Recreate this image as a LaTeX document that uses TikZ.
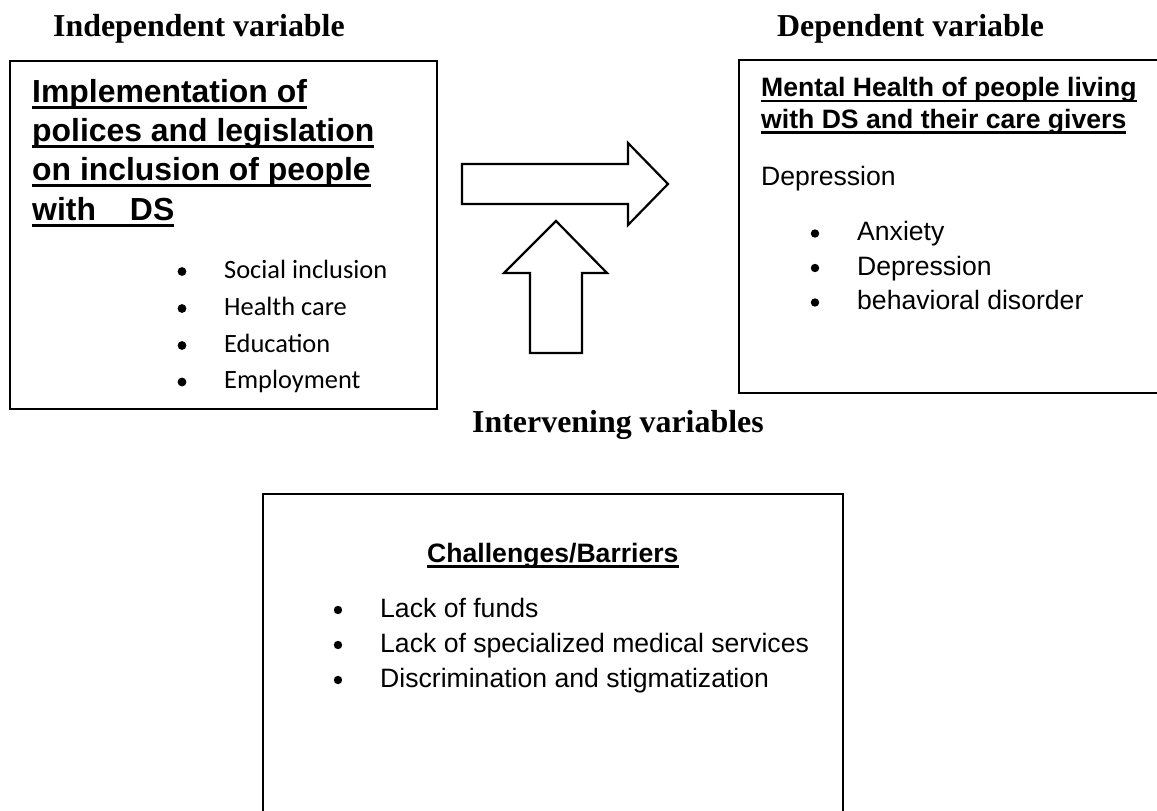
\documentclass[tikz,border=0pt]{standalone}
\usepackage{fontspec}
\setmainfont{Liberation Serif}
\newfontfamily\arialf{Liberation Sans}
\newfontfamily\calibrif{Carlito}

% underline at a fixed depth, crossing descenders
\newcommand\ulined[1]{\setbox0=\hbox{#1}\rlap{\rule[-0.21em]{\wd0}{0.09em}}\box0}

\begin{document}
\begin{tikzpicture}[x=1pt,y=-1pt,
  frame/.style={draw, line width=2.4pt, rectangle, inner sep=0, outer sep=0, anchor=north west},
  blockarrow/.style={draw, line width=2.2pt, line join=miter, fill=white},
  title/.style={anchor=base west, inner sep=0, font=\fontsize{31.9}{38}\selectfont\bfseries},
  headbig/.style={anchor=base west, inner sep=0, font=\arialf\fontsize{31.9}{39}\selectfont\bfseries},
  headsmall/.style={anchor=base west, inner sep=0, font=\arialf\fontsize{26.6}{32}\selectfont\bfseries},
  item/.style={anchor=base west, inner sep=0, font=\arialf\fontsize{26.6}{32}\selectfont},
  itemc/.style={anchor=base west, inner sep=0, font=\calibrif\fontsize{26.4}{32}\selectfont},
  dot/.style={fill=black},
]
\useasboundingbox (0,0) rectangle (1157,811);
\clip (0,0) rectangle (1157,811);

% section titles
\node[title] (tindep) at (53,36.5) {Independent variable};
\node[title] (tdep) at (777,36.5) {Dependent variable};
\node[title] (tinter) at (472,432) {Intervening variables};

% frames
\node[frame, minimum width=427pt, minimum height=348pt] (indep) at (10,61) {};
\node[frame, minimum width=440pt, minimum height=333pt] (dep) at (739,60) {};
\node[frame, minimum width=580pt, minimum height=340pt] (inter) at (263,494) {};

% independent variable
\node[headbig] (h1) at (32,102) {\ulined{Implementation of}};
\node[headbig] (h2) at (32,141.3) {\ulined{polices and legislation}};
\node[headbig] (h3) at (32,180.6) {\ulined{on inclusion of people}};
\node[headbig] (h4) at (32,220) {\ulined{with\hspace*{34pt}DS}};

\node[itemc] (i1) at (224,278) {Social inclusion};
\node[itemc] (i2) at (224,315) {Health care};
\node[itemc] (i3) at (224,352) {Education};
\node[itemc] (i4) at (224,388.5) {Employment};
\foreach \y in {278,315,352,388.5} \fill[dot] (182,\y-6.5) circle (4.4pt);

% dependent variable
\node[headsmall] (d1) at (761,96.7) {\ulined{Mental Health of people living}};
\node[headsmall] (d2) at (761,128.3) {\ulined{with DS and their care givers}};
\node[item] (d0) at (761,185) {Depression};
\node[item] (d3) at (857,240.5) {Anxiety};
\node[item] (d4) at (857,275) {Depression};
\node[item] (d5) at (857,309.5) {behavioral disorder};
\foreach \y in {240.5,275,309.5} \fill[dot] (815,\y-7) circle (4.2pt);

% intervening variables
\node[headsmall] (c0) at (427,562) {\ulined{Challenges/Barriers}};
\node[item] (c1) at (380,617) {Lack of funds};
\node[item] (c2) at (380,652) {Lack of specialized medical services};
\node[item] (c3) at (380,687) {Discrimination and stigmatization};
\foreach \y in {617,652,687} \fill[dot] (338,\y-7) circle (4.2pt);

% block arrows
\draw[blockarrow] (462,164) -- (628,164) -- (628,143) -- (668,184) -- (628,225)
  -- (628,204) -- (462,204) -- cycle;
\draw[blockarrow] (530,353) -- (530,273) -- (504,273) -- (556,221) -- (607,273)
  -- (582,273) -- (582,353) -- cycle;
\end{tikzpicture}
\end{document}
